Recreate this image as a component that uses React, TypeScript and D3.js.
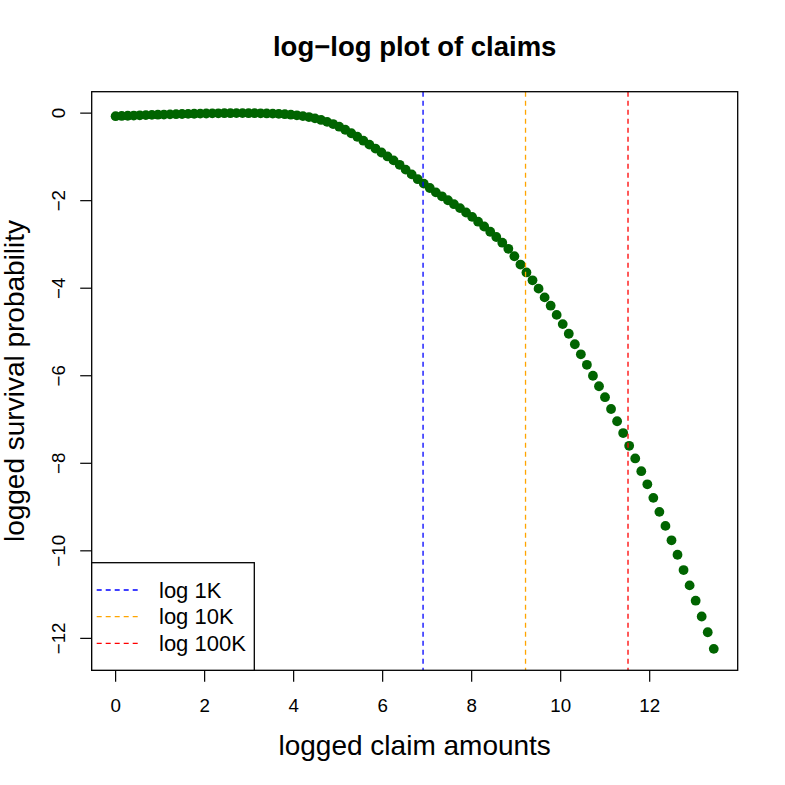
import React from 'react'
import * as d3 from 'd3'

// log claim amount (x) and log survival probability (y)
const logClaims = [
  0, 0.136, 0.272, 0.407, 0.543, 0.679, 0.815, 0.95, 1.086, 1.222,
  1.358, 1.493, 1.629, 1.765, 1.901, 2.036, 2.172, 2.308, 2.444, 2.579,
  2.715, 2.851, 2.987, 3.122, 3.258, 3.394, 3.53, 3.666, 3.801, 3.937,
  4.073, 4.209, 4.344, 4.48, 4.616, 4.752, 4.887, 5.023, 5.159, 5.295,
  5.43, 5.566, 5.702, 5.838, 5.973, 6.109, 6.245, 6.381, 6.516, 6.652,
  6.788, 6.924, 7.059, 7.195, 7.331, 7.467, 7.602, 7.738, 7.874, 8.01,
  8.145, 8.281, 8.417, 8.553, 8.688, 8.824, 8.96, 9.096, 9.231, 9.367,
  9.503, 9.639, 9.775, 9.91, 10.046, 10.182, 10.318, 10.453, 10.589, 10.725,
  10.861, 10.996, 11.132, 11.268, 11.404, 11.539, 11.675, 11.811, 11.947, 12.082,
  12.218, 12.354, 12.49, 12.625, 12.761, 12.897, 13.033, 13.168, 13.304, 13.44,
]
const logSurvival = [
  -0.07, -0.065, -0.06, -0.055, -0.05, -0.045, -0.04, -0.036, -0.032, -0.028,
  -0.024, -0.02, -0.017, -0.014, -0.011, -0.008, -0.006, -0.004, -0.002, -0.001,
  0, 0, -0.001, -0.002, -0.004, -0.007, -0.011, -0.017, -0.025, -0.036,
  -0.05, -0.068, -0.09, -0.12, -0.155, -0.2, -0.25, -0.31, -0.38, -0.46,
  -0.54, -0.63, -0.72, -0.81, -0.9, -0.99, -1.08, -1.18, -1.29, -1.4,
  -1.51, -1.61, -1.71, -1.81, -1.9, -1.99, -2.08, -2.17, -2.27, -2.37,
  -2.48, -2.59, -2.71, -2.83, -2.96, -3.1, -3.27, -3.46, -3.64, -3.82,
  -4.01, -4.21, -4.4, -4.61, -4.82, -5.04, -5.28, -5.51, -5.75, -6.0,
  -6.24, -6.49, -6.76, -7.04, -7.31, -7.6, -7.89, -8.18, -8.48, -8.79,
  -9.11, -9.43, -9.76, -10.09, -10.44, -10.79, -11.14, -11.5, -11.86, -12.24,
]

const refNames = ['log 1K', 'log 10K', 'log 100K']
const refValues = [Math.log(1e3), Math.log(1e4), Math.log(1e5)]
const refColors = ['blue', 'orange', 'red']

const xTicks = [0, 2, 4, 6, 8, 10, 12]
const yTicks = [0, -2, -4, -6, -8, -10, -12]

const FONT = 'Liberation Sans, Arial, Helvetica, sans-serif'

// R style 4% padding on both ends
const padded = (vals: number[]) => {
  const [lo, hi] = d3.extent(vals) as [number, number]
  const p = (hi - lo) * 0.04
  return [lo - p, hi + p]
}

export default function App() {
  const width = 785
  const height = 785
  const left = 91.7, right = 737.7, top = 91.7, bottom = 670.3

  const x = d3.scaleLinear().domain(padded(logClaims)).range([left, right])
  const y = d3.scaleLinear().domain(padded(logSurvival)).range([bottom, top])
  const fmt = d3.format('d')

  const legendRows = [590, 616.7, 643.3]

  return <svg width={width} height={height} style={{ position: 'absolute', left: 0, top: 0, background: 'white' }}
              fontFamily={FONT}>
    <rect x={0} y={0} width={width} height={height} fill="white" />

    <text x={(left + right) / 2} y={56} textAnchor="middle" fontWeight="bold" fontSize={27.5}>
      log−log plot of claims
    </text>

    {logClaims.map((v, i) =>
      <circle key={i} cx={x(v)} cy={y(logSurvival[i])} r={4.9} fill="#006400" />
    )}

    {refValues.map((v, i) =>
      <line key={refNames[i]} x1={x(v)} x2={x(v)} y1={top} y2={bottom}
            stroke={refColors[i]} strokeWidth={1.3} strokeDasharray="5,4" />
    )}

    <rect x={left} y={top} width={right - left} height={bottom - top}
          fill="none" stroke="black" strokeWidth={1.3} />

    {xTicks.map(t => <g key={t} transform={`translate(${x(t)},0)`}>
      <line y1={bottom} y2={bottom + 11.5} stroke="black" strokeWidth={1.2} />
      <text y={712} textAnchor="middle" fontSize={18.75}>{fmt(t)}</text>
    </g>)}

    {yTicks.map(t => <g key={t} transform={`translate(0,${y(t)})`}>
      <line x1={left} x2={left - 11.5} stroke="black" strokeWidth={1.2} />
      <text transform="translate(65,0) rotate(-90)" textAnchor="middle" fontSize={18.75}>{fmt(t)}</text>
    </g>)}

    <text x={(left + right) / 2} y={755} textAnchor="middle" fontSize={28}>logged claim amounts</text>
    <text transform={`translate(24,${(top + bottom) / 2}) rotate(-90)`} textAnchor="middle" fontSize={28}>
      logged survival probability
    </text>

    <g>
      <rect x={left} y={562.7} width={254.3 - left} height={bottom - 562.7}
            fill="white" stroke="black" strokeWidth={1.3} />
      {refNames.map((name, i) => <g key={name} transform={`translate(0,${legendRows[i]})`}>
        <line x1={96.7} x2={139} stroke={refColors[i]} strokeWidth={1.3} strokeDasharray="5,4" />
        <text x={159} y={7.5} fontSize={22}>{name}</text>
      </g>)}
    </g>
  </svg>
}
